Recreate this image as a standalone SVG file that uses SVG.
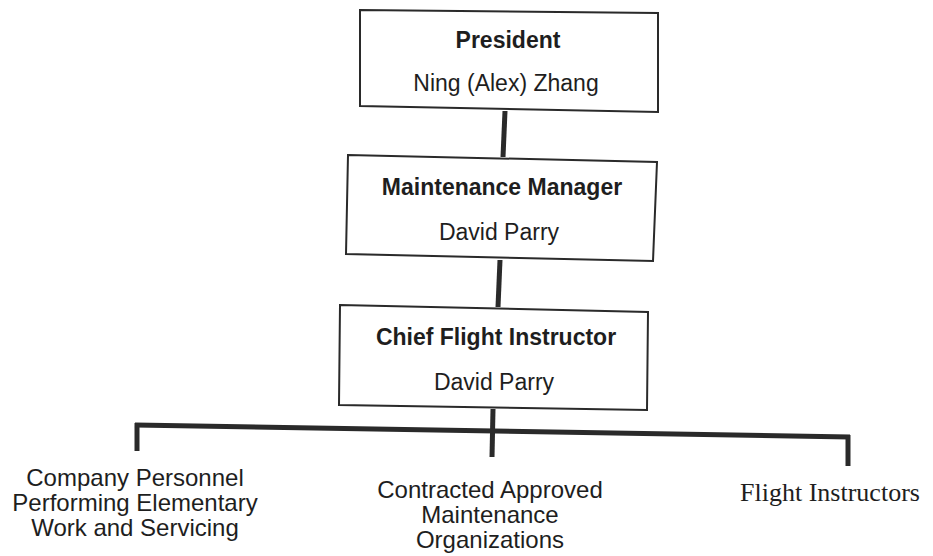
<svg xmlns="http://www.w3.org/2000/svg" width="933" height="556" viewBox="0 0 933 556">
<style>
.box{fill:#fff;stroke:#2a2a2a;stroke-width:2}
.con{fill:none;stroke:#2a2a2a;stroke-width:5;stroke-linecap:butt}
.t{font-family:"Liberation Sans",Arial,sans-serif;font-size:23px;fill:#1e1e1e;text-anchor:middle}
.b{font-weight:bold}
.l{font-size:24px}
.s{font-family:"Liberation Serif","Times New Roman",serif;font-size:26px;fill:#1e1e1e;text-anchor:middle}
</style>
<rect width="933" height="556" fill="#fff"/>
<g id="connectors">
<line class="con" x1="505" y1="111" x2="503" y2="157"/>
<line class="con" x1="500" y1="260" x2="498" y2="307"/>
<line class="con" x1="493" y1="409" x2="492" y2="457"/>
<line class="con" x1="135" y1="425" x2="850" y2="437"/>
<line class="con" x1="137" y1="423" x2="137" y2="451"/>
<line class="con" x1="848" y1="435" x2="848" y2="466"/>
</g>
<g id="president">
<polygon class="box" points="360,10 658,13 658,112 360,106"/>
<text class="t b" x="508" y="48">President</text>
<text class="t" x="506" y="91">Ning (Alex) Zhang</text>
</g>
<g id="maintenance-manager">
<polygon class="box" points="348,155 657,162 653,261 346,254"/>
<text class="t b" x="502" y="195">Maintenance Manager</text>
<text class="t" x="499" y="240">David Parry</text>
</g>
<g id="chief-flight-instructor">
<polygon class="box" points="340,305 648,312 647,410 339,405"/>
<text class="t b" x="496" y="345">Chief Flight Instructor</text>
<text class="t" x="494" y="390">David Parry</text>
</g>
<g id="company-personnel">
<text class="t l" x="135" y="486">Company Personnel</text>
<text class="t l" x="135" y="511">Performing Elementary</text>
<text class="t l" x="135" y="536">Work and Servicing</text>
</g>
<g id="contracted-amo">
<text class="t l" x="490" y="498">Contracted Approved</text>
<text class="t l" x="490" y="523">Maintenance</text>
<text class="t l" x="490" y="548">Organizations</text>
</g>
<g id="flight-instructors">
<text class="s" x="830" y="501">Flight Instructors</text>
</g>
</svg>
